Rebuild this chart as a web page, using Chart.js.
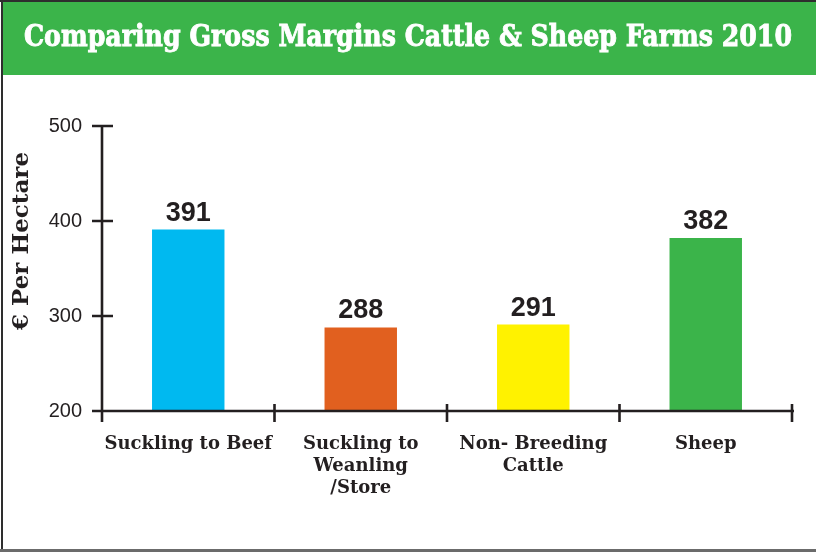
<!DOCTYPE html>
<html>
<head>
<meta charset="utf-8">
<script src="https://cdn.jsdelivr.net/npm/chart.js@4/dist/chart.umd.min.js"></script>
<style>
  html, body { margin: 0; padding: 0; background: #ffffff; }
  canvas { display: block; }
</style>
</head>
<body>
<canvas id="chart" width="816" height="552"></canvas>
<script>
// Gross margins per hectare, 2010
const titleText = 'Comparing Gross Margins Cattle & Sheep Farms 2010';
const axisTitle = '€ Per Hectare';
const categories = [
  ['Suckling to Beef'],
  ['Suckling to', 'Weanling', '/Store'],
  ['Non- Breeding', 'Cattle'],
  ['Sheep']
];
const margins = [391, 288, 291, 382];
const barColors = ['#00B9F0', '#E1601F', '#FFF200', '#3BB44A'];
const yMin = 200;
const yMax = 500;
const yStep = 100;

const INK = '#231F20';
const HEADER_GREEN = '#3BB44A';

// Frame, green header band and the headline
const framePlugin = {
  id: 'frame',
  beforeDraw(chart) {
    const ctx = chart.ctx;
    const w = chart.width, h = chart.height;
    ctx.save();
    ctx.fillStyle = '#ffffff';
    ctx.fillRect(0, 0, w, h);
    ctx.fillStyle = HEADER_GREEN;
    ctx.fillRect(2, 2, w - 2, 73);
    ctx.fillStyle = '#2e2e2e';
    ctx.fillRect(0, 0, w, 2);
    ctx.fillRect(1, 0, 2, h);
    ctx.fillStyle = '#6b6b6b';
    ctx.fillRect(0, h - 3, w, 3);

    // headline, condensed to the band width
    ctx.font = 'bold 29px "DejaVu Serif"';
    ctx.fillStyle = '#ffffff';
    ctx.strokeStyle = '#ffffff';
    ctx.lineWidth = 0.9;
    ctx.textBaseline = 'alphabetic';
    ctx.textAlign = 'center';
    const natural = ctx.measureText(titleText).width;
    const target = 768;
    ctx.translate(408, 46);
    ctx.scale(target / natural, 1);
    ctx.fillText(titleText, 0, 0);
    ctx.strokeText(titleText, 0, 0);
    ctx.restore();
  }
};

// Axis lines with ticks that cross them, value labels and the y title
const axesPlugin = {
  id: 'axesAndLabels',
  afterDatasetsDraw(chart) {
    const ctx = chart.ctx;
    const area = chart.chartArea;
    const xs = chart.scales.x;
    const ys = chart.scales.y;
    ctx.save();
    ctx.strokeStyle = INK;
    ctx.lineWidth = 2.6;
    ctx.lineCap = 'butt';

    const top = ys.getPixelForValue(yMax);
    const bottom = ys.getPixelForValue(yMin);

    ctx.beginPath();
    ctx.moveTo(area.left, top);
    ctx.lineTo(area.left, bottom + 11);
    ctx.moveTo(area.left - 7, bottom);
    ctx.lineTo(area.right + 2, bottom);
    ys.ticks.forEach(t => {
      const py = ys.getPixelForValue(t.value);
      ctx.moveTo(area.left - 10, py);
      ctx.lineTo(area.left + 11, py);
    });
    const step = xs.getPixelForValue(1) - xs.getPixelForValue(0);
    for (let i = 0; i <= categories.length; i++) {
      const px = xs.getPixelForValue(i) - step / 2;
      ctx.moveTo(px, bottom - 7);
      ctx.lineTo(px, bottom + 11);
    }
    ctx.stroke();

    // values above bars
    const meta = chart.getDatasetMeta(0);
    ctx.fillStyle = INK;
    ctx.font = 'bold 27px "Liberation Sans", Arial, sans-serif';
    ctx.textAlign = 'center';
    ctx.textBaseline = 'alphabetic';
    meta.data.forEach((bar, i) => {
      ctx.fillText(String(margins[i]), bar.x, bar.y - 9);
    });

    // rotated y-axis title
    ctx.font = 'bold 23px "DejaVu Serif"';
    ctx.textBaseline = 'middle';
    ctx.translate(22, 241);
    ctx.rotate(-Math.PI / 2);
    ctx.fillText(axisTitle, 0, 0);
    ctx.restore();
  }
};

new Chart(document.getElementById('chart'), {
  type: 'bar',
  data: {
    labels: categories,
    datasets: [{
      data: margins,
      backgroundColor: barColors,
      borderWidth: 0,
      categoryPercentage: 1,
      barPercentage: 0.42
    }]
  },
  options: {
    responsive: false,
    devicePixelRatio: 1,
    animation: false,
    layout: { padding: { top: 126, right: 24, left: 0, bottom: 0 } },
    plugins: {
      legend: { display: false },
      title: { display: false },
      tooltip: { enabled: false }
    },
    scales: {
      x: {
        grid: { display: false, drawTicks: false },
        border: { display: false },
        ticks: {
          color: INK,
          padding: 22,
          autoSkip: false,
          maxRotation: 0,
          font: { family: '"DejaVu Serif"', weight: 'bold', size: 18, lineHeight: 1.22 }
        },
        afterFit(scale) { scale.height = 141; }
      },
      y: {
        min: yMin,
        max: yMax,
        grid: { display: false, drawTicks: false },
        border: { display: false },
        ticks: {
          stepSize: yStep,
          color: INK,
          padding: 20,
          font: { family: '"Liberation Sans", Arial, sans-serif', size: 20 }
        },
        afterFit(scale) { scale.width = 102; }
      }
    }
  },
  plugins: [framePlugin, axesPlugin]
});
</script>
</body>
</html>
